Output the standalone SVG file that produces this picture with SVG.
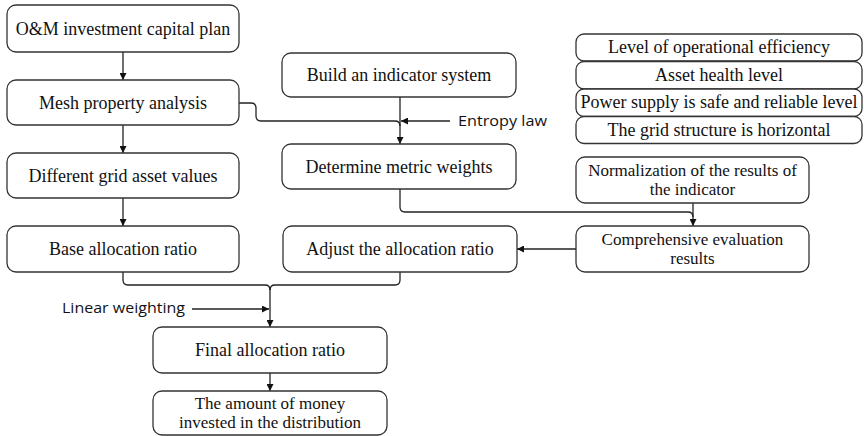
<svg xmlns="http://www.w3.org/2000/svg" width="864" height="436" viewBox="0 0 864 436">
<defs>
<marker id="ah" markerUnits="userSpaceOnUse" markerWidth="8" markerHeight="7" refX="7" refY="3.5" orient="auto">
<path d="M0,0 L7,3.5 L0,7 z" fill="#111"/>
</marker>
<style>
.box{fill:#fff;stroke:#333;stroke-width:1.3}
.t{font-family:"Liberation Serif","Times New Roman",serif;font-size:18px;fill:#111;text-anchor:middle}
.t2{font-family:"Liberation Serif","Times New Roman",serif;font-size:17px;fill:#111;text-anchor:middle}
.s{font-family:"Open Sans","Liberation Sans",sans-serif;font-size:14px;fill:#111}
.ln{fill:none;stroke:#222;stroke-width:1.3}
.ar{fill:none;stroke:#222;stroke-width:1.3;marker-end:url(#ah)}
</style>
</defs>
<rect width="864" height="436" fill="#fff"/>
<g id="connectors">
<path class="ar" d="M123,52 V80"/>
<path class="ar" d="M123,125 V153"/>
<path class="ar" d="M123,198 V226"/>
<path class="ar" d="M400,97 V144"/>
<path class="ln" d="M239,103 H251 Q256,103 256,108 V116 Q256,121 261,121 H395 Q400,121 400,126"/>
<path class="ar" d="M450,121 H401"/>
<path class="ln" d="M400,189 V207 Q400,212 405,212 H688 Q693,212 693,217"/>
<path class="ar" d="M693,203 V226"/>
<path class="ar" d="M576,249 H517"/>
<path class="ln" d="M123,272 V280 Q123,285 128,285 H265 Q270,285 270,290"/>
<path class="ln" d="M400,272 V280 Q400,285 395,285 H275 Q270,285 270,290"/>
<path class="ar" d="M270,288 V327"/>
<path class="ar" d="M192,309 H269"/>
<path class="ar" d="M270,373 V391"/>
</g>
<g id="n1"><rect class="box" x="7" y="5" width="232" height="47" rx="9"/><text class="t" x="123" y="35">O&amp;M investment capital plan</text></g>
<g id="n2"><rect class="box" x="7" y="80" width="232" height="45" rx="9"/><text class="t" x="123" y="108.5">Mesh property analysis</text></g>
<g id="n3"><rect class="box" x="7" y="153" width="232" height="45" rx="9"/><text class="t" x="123" y="181.5">Different grid asset values</text></g>
<g id="n4"><rect class="box" x="7" y="226" width="232" height="46" rx="9"/><text class="t" x="123" y="255">Base allocation ratio</text></g>
<g id="n5"><rect class="box" x="282" y="53" width="234" height="44" rx="9"/><text class="t" x="399" y="81">Build an indicator system</text></g>
<g id="n6"><rect class="box" x="282" y="144" width="234" height="45" rx="9"/><text class="t" x="399" y="172.5">Determine metric weights</text></g>
<g id="n7"><rect class="box" x="283" y="226" width="234" height="46" rx="9"/><text class="t" x="400" y="255">Adjust the allocation ratio</text></g>
<g id="n8"><rect class="box" x="576" y="157" width="233" height="46" rx="9"/><text class="t2" x="692.5" y="176">Normalization of the results of</text><text class="t2" x="692.5" y="195">the indicator</text></g>
<g id="n9"><rect class="box" x="576" y="226" width="233" height="46" rx="9"/><text class="t2" x="692.5" y="245">Comprehensive evaluation</text><text class="t2" x="692.5" y="264">results</text></g>
<g id="n10"><rect class="box" x="153" y="327" width="234" height="46" rx="9"/><text class="t" x="270" y="356">Final allocation ratio</text></g>
<g id="n11"><rect class="box" x="153" y="391" width="234" height="44" rx="9"/><text class="t2" x="270" y="409">The amount of money</text><text class="t2" x="270" y="428">invested in the distribution</text></g>
<g id="n12"><rect class="box" x="576" y="34" width="286" height="27" rx="8"/><text class="t" x="719" y="53">Level of operational efficiency</text></g>
<g id="n13"><rect class="box" x="576" y="61.5" width="286" height="27.5" rx="8"/><text class="t" x="719" y="80.5">Asset health level</text></g>
<g id="n14"><rect class="box" x="576" y="89" width="286" height="27.5" rx="8"/><text class="t" x="719" y="108">Power supply is safe and reliable level</text></g>
<g id="n15"><rect class="box" x="576" y="116.5" width="286" height="27" rx="8"/><text class="t" x="719" y="136">The grid structure is horizontal</text></g>
<g id="labels">
<text class="s" x="458" y="126" textLength="89" lengthAdjust="spacingAndGlyphs">Entropy law</text>
<text class="s" x="62" y="313" textLength="123" lengthAdjust="spacingAndGlyphs">Linear weighting</text>
</g>
</svg>
